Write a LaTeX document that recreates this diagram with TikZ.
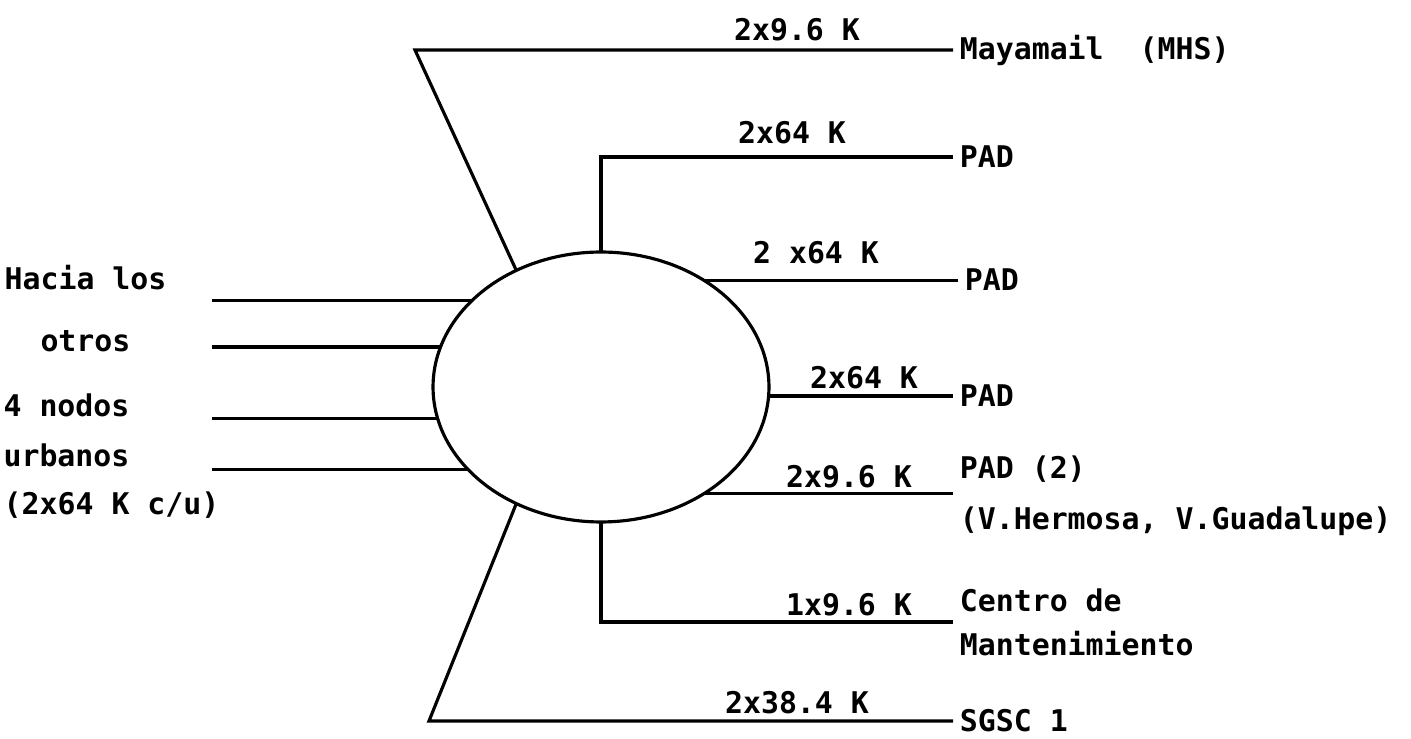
\documentclass[tikz,border=0pt]{standalone}
\usepackage{fontspec}
\usepackage{tikz}
\usetikzlibrary{shapes.geometric}
\newfontfamily\termfont{DejaVu Sans Mono}
\newcommand{\termtext}{\termfont\bfseries\fontsize{17}{21}\selectfont}

\begin{document}
\begin{tikzpicture}[x=0.02cm, y=-0.02cm, line width=1.8pt,
  hub/.style={ellipse, draw, inner sep=0pt, outer sep=0pt, minimum width=6.72cm, minimum height=5.4cm},
  site/.style={anchor=west, inner sep=3pt, align=left, font=\termtext},
  rate/.style={inner sep=0pt, font=\termtext},
  note/.style={anchor=east, inner sep=0pt, font=\termtext}]

\useasboundingbox (0,0) rectangle (1411,739);

\node[hub] (hub) at (601,387) {};

% links to the other urban nodes
\node[note] (n1) at (168,278) {Hacia los};
\node[note] (n2) at (132,341) {otros};
\node[note] (n3) at (131,405) {4 nodos};
\node[note] (n4) at (131,455) {urbanos};
\node[note] (n5) at (221,505) {(2x64 K c/u)};
\coordinate (w) at (212,0);
\draw (w |- hub.146.9) -- (hub.146.9);
\draw (w |- hub.166.7) -- (hub.166.7);
\draw (w |- hub.191.5) -- (hub.191.5);
\draw (w |- hub.212.6) -- (hub.212.6);

% sites on the right
\node[site] (may) at (953,50) {Mayamail\ \ (MHS)};
\node[site] (pad1) at (953,157) {PAD};
\node[site] (pad2) at (958,280) {PAD};
\node[site] (pad3) at (953,396) {PAD};
\node[site] (pad4) at (953,496) {PAD (2)\\[8pt](V.Hermosa, V.Guadalupe)};
\node[site] (cen) at (953,622) {Centro de\\[4pt]Mantenimiento};
\node[site] (sgsc) at (953,721) {SGSC 1};

\coordinate (mk) at (415,50);
\coordinate (sk) at (429,721);
\draw (hub.126.5) -- (mk) -- (may.west);
\draw (hub.north) |- (pad1.west);
\draw (hub.46.4) -- (hub.46.4 -| pad2.west);
\draw (hub.east |- pad3.west) -- (pad3.west);
\draw (hub.314.5) -- (hub.314.5 -| pad4.west);
\draw (hub.south) |- (cen.west);
\draw (hub.234.4) -- (sk) -- (sgsc.west);

% line rates
\node[rate] (r1) at (797,30) {2x9.6 K};
\node[rate] (r2) at (792,133) {2x64 K};
\node[rate] (r3) at (816,253) {2 x64 K};
\node[rate] (r4) at (864,378) {2x64 K};
\node[rate] (r5) at (849,477) {2x9.6 K};
\node[rate] (r6) at (849,605) {1x9.6 K};
\node[rate] (r7) at (797,703) {2x38.4 K};
\end{tikzpicture}
\end{document}
